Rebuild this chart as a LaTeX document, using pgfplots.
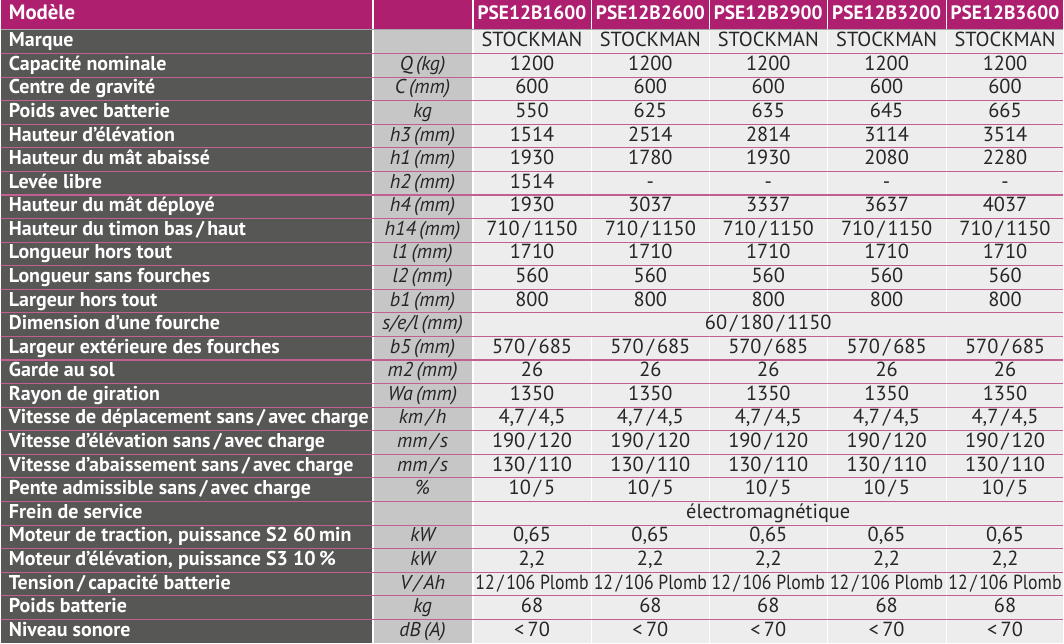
\documentclass[border=0pt]{standalone}
\usepackage{graphicx}
\usepackage{pgfplots}
\pgfplotsset{compat=1.18}
\usepackage{fontspec}
\setmainfont{PT Sans}
\definecolor{mag}{HTML}{AE1F6F}
\definecolor{lab}{HTML}{575756}
\definecolor{unitc}{HTML}{C6C6C6}
\definecolor{cellc}{HTML}{EDEDED}
\definecolor{sep}{HTML}{B8417F}
\newcommand{\sls}{\kern0.15em/\kern0.15em}
\newcommand{\narrow}[1]{\scalebox{0.87}[1]{#1}}

\tikzset{
    lbl/.style={anchor=mid west, inner sep=0pt, text=white, font=\fontsize{10}{12}\selectfont\bfseries},
    unt/.style={anchor=mid, inner sep=0pt, text=black!85, font=\fontsize{10}{12}\selectfont\itshape},
    val/.style={anchor=mid, inner sep=0pt, text=black!85, font=\fontsize{10.2}{12}\selectfont},
    hdr/.style={anchor=mid, inner sep=0pt, text=white, font=\fontsize{9.7}{12}\selectfont\bfseries},
}

% row k: top = 30 + (k-1)*23.6 (pixels of the 1064 x 644 reference)
\newcommand{\trow}[8]{%
  \fill[lab]   (axis cs:0,{30+(#1-1)*23.6})   rectangle (axis cs:372,{30+#1*23.6});
  \fill[unitc] (axis cs:373.5,{30+(#1-1)*23.6}) rectangle (axis cs:472,{30+#1*23.6});
  \fill[cellc] (axis cs:473.5,{30+(#1-1)*23.6}) rectangle (axis cs:591,{30+#1*23.6});
  \fill[cellc] (axis cs:592.5,{30+(#1-1)*23.6}) rectangle (axis cs:709,{30+#1*23.6});
  \fill[cellc] (axis cs:710.5,{30+(#1-1)*23.6}) rectangle (axis cs:827,{30+#1*23.6});
  \fill[cellc] (axis cs:828.5,{30+(#1-1)*23.6}) rectangle (axis cs:946,{30+#1*23.6});
  \fill[cellc] (axis cs:947.5,{30+(#1-1)*23.6}) rectangle (axis cs:1064,{30+#1*23.6});
  \node[lbl] at (axis cs:8,{30+(#1-0.5)*23.6}) {#2};
  \node[unt] at (axis cs:422.5,{30+(#1-0.5)*23.6}) {#3};
  \node[val] at (axis cs:532,{30+(#1-0.5)*23.6}) {#4};
  \node[val] at (axis cs:650.5,{30+(#1-0.5)*23.6}) {#5};
  \node[val] at (axis cs:768.5,{30+(#1-0.5)*23.6}) {#6};
  \node[val] at (axis cs:887,{30+(#1-0.5)*23.6}) {#7};
  \node[val] at (axis cs:1005.5,{30+(#1-0.5)*23.6}) {#8};
}
% merged data row
\newcommand{\mrow}[4]{%
  \fill[lab]   (axis cs:0,{30+(#1-1)*23.6})   rectangle (axis cs:372,{30+#1*23.6});
  \fill[unitc] (axis cs:373.5,{30+(#1-1)*23.6}) rectangle (axis cs:472,{30+#1*23.6});
  \fill[cellc] (axis cs:473.5,{30+(#1-1)*23.6}) rectangle (axis cs:1064,{30+#1*23.6});
  \node[lbl] at (axis cs:8,{30+(#1-0.5)*23.6}) {#2};
  \node[unt] at (axis cs:422.5,{30+(#1-0.5)*23.6}) {#3};
  \node[val] at (axis cs:768.5,{30+(#1-0.5)*23.6}) {#4};
}

\begin{document}
\begin{tikzpicture}
\begin{axis}[
    width=532pt, height=322pt,
    scale only axis,
    xmin=0, xmax=1064,
    ymin=0, ymax=644,
    y dir=reverse,
    hide axis,
    clip=false,
]
\addplot[draw=none, forget plot] coordinates {(0,0) (1064,644)};

% header
\fill[mag] (axis cs:0,0)     rectangle (axis cs:372,30);
\fill[mag] (axis cs:373.5,0) rectangle (axis cs:472,30);
\fill[mag] (axis cs:473.5,0) rectangle (axis cs:591,30);
\fill[mag] (axis cs:592.5,0) rectangle (axis cs:709,30);
\fill[mag] (axis cs:710.5,0) rectangle (axis cs:827,30);
\fill[mag] (axis cs:828.5,0) rectangle (axis cs:946,30);
\fill[mag] (axis cs:947.5,0) rectangle (axis cs:1064,30);
\node[lbl, font=\fontsize{10.4}{12}\selectfont\bfseries] at (axis cs:8,15) {Modèle};
\node[hdr] at (axis cs:532,15) {PSE12B1600};
\node[hdr] at (axis cs:650.5,15) {PSE12B2600};
\node[hdr] at (axis cs:768.5,15) {PSE12B2900};
\node[hdr] at (axis cs:887,15) {PSE12B3200};
\node[hdr] at (axis cs:1005.5,15) {PSE12B3600};

\trow{1}{Marque}{}{STOCKMAN}{STOCKMAN}{STOCKMAN}{STOCKMAN}{STOCKMAN}
\trow{2}{Capacité nominale}{Q\,(kg)}{1200}{1200}{1200}{1200}{1200}
\trow{3}{Centre de gravité}{C\,(mm)}{600}{600}{600}{600}{600}
\trow{4}{Poids avec batterie}{kg}{550}{625}{635}{645}{665}
\trow{5}{Hauteur d’élévation}{h3\,(mm)}{1514}{2514}{2814}{3114}{3514}
\trow{6}{Hauteur du mât abaissé}{h1\,(mm)}{1930}{1780}{1930}{2080}{2280}
\trow{7}{Levée libre}{h2\,(mm)}{1514}{-}{-}{-}{-}
\trow{8}{Hauteur du mât déployé}{h4\,(mm)}{1930}{3037}{3337}{3637}{4037}
\trow{9}{Hauteur du timon bas\sls haut}{h14\,(mm)}{710\sls 1150}{710\sls 1150}{710\sls 1150}{710\sls 1150}{710\sls 1150}
\trow{10}{Longueur hors tout}{l1\,(mm)}{1710}{1710}{1710}{1710}{1710}
\trow{11}{Longueur sans fourches}{l2\,(mm)}{560}{560}{560}{560}{560}
\trow{12}{Largeur hors tout}{b1\,(mm)}{800}{800}{800}{800}{800}
\mrow{13}{Dimension d’une fourche}{s/e/l\,(mm)}{60\sls 180\sls 1150}
\trow{14}{Largeur extérieure des fourches}{b5\,(mm)}{570\sls 685}{570\sls 685}{570\sls 685}{570\sls 685}{570\sls 685}
\trow{15}{Garde au sol}{m2\,(mm)}{26}{26}{26}{26}{26}
\trow{16}{Rayon de giration}{Wa\,(mm)}{1350}{1350}{1350}{1350}{1350}
\trow{17}{Vitesse de déplacement sans\sls avec charge}{km\sls h}{4,7\sls 4,5}{4,7\sls 4,5}{4,7\sls 4,5}{4,7\sls 4,5}{4,7\sls 4,5}
\trow{18}{Vitesse d’élévation sans\sls avec charge}{mm\sls s}{190\sls 120}{190\sls 120}{190\sls 120}{190\sls 120}{190\sls 120}
\trow{19}{Vitesse d’abaissement sans\sls avec charge}{mm\sls s}{130\sls 110}{130\sls 110}{130\sls 110}{130\sls 110}{130\sls 110}
\trow{20}{Pente admissible sans\sls avec charge}{\%}{10\sls 5}{10\sls 5}{10\sls 5}{10\sls 5}{10\sls 5}
\mrow{21}{Frein de service}{}{électromagnétique}
\trow{22}{Moteur de traction, puissance S2 60\,min}{kW}{0,65}{0,65}{0,65}{0,65}{0,65}
\trow{23}{Moteur d’élévation, puissance S3 10\,\%}{kW}{2,2}{2,2}{2,2}{2,2}{2,2}
\trow{24}{Tension\sls capacité batterie}{V\sls Ah}{\narrow{12\sls 106 Plomb}}{\narrow{12\sls 106 Plomb}}{\narrow{12\sls 106 Plomb}}{\narrow{12\sls 106 Plomb}}{\narrow{12\sls 106 Plomb}}
\trow{25}{Poids batterie}{kg}{68}{68}{68}{68}{68}
\trow{26}{Niveau sonore}{dB\,(A)}{<\,70}{<\,70}{<\,70}{<\,70}{<\,70}

% row separators
\draw[black!35, line width=0.5pt] (axis cs:0,30) -- (axis cs:1064,30);
\pgfplotsinvokeforeach{2,...,26}{
  \draw[sep!85, line width=0.55pt] (axis cs:0,{30+(#1-1)*23.6}) -- (axis cs:1064,{30+(#1-1)*23.6});
}
\end{axis}
\end{tikzpicture}
\end{document}
